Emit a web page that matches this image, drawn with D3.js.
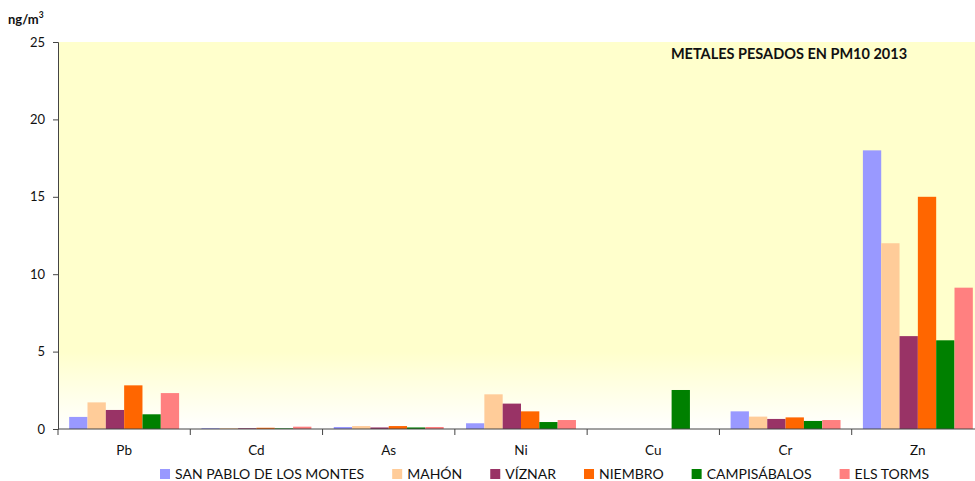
<!DOCTYPE html>
<html><head><meta charset="utf-8">
<script src="https://cdn.jsdelivr.net/npm/d3@7"></script>
<style>body{margin:0;background:#fff}svg{display:block;font-family:Lato,"Open Sans",sans-serif}</style>
</head><body><svg id="c" width="975" height="481"></svg>
<script>
const categories = ["Pb","Cd","As","Ni","Cu","Cr","Zn"];
const seriesNames = ["SAN PABLO DE LOS MONTES","MAHÓN","VÍZNAR","NIEMBRO","CAMPISÁBALOS","ELS TORMS"];
const colors = ["#9999FF","#FFCC99","#993366","#FF6600","#008000","#FF8080"];
const sanPablo     = [0.78, 0.05, 0.13, 0.37, 0,    1.14, 18.0];
const mahon        = [1.72, 0.05, 0.19, 2.24, 0,    0.80, 12.0];
const viznar       = [1.23, 0.05, 0.10, 1.64, 0,    0.65, 6.0];
const niembro      = [2.82, 0.08, 0.19, 1.14, 0,    0.75, 15.0];
const campisabalos = [0.95, 0.04, 0.10, 0.45, 2.52, 0.52, 5.73];
const elsTorms     = [2.32, 0.15, 0.13, 0.58, 0,    0.58, 9.13];
const seriesValues = [sanPablo, mahon, viznar, niembro, campisabalos, elsTorms];
const yTicks = [0,5,10,15,20,25];
const title = "METALES PESADOS EN PM10 2013";

const svg = d3.select("#c");
const L = 58, R = 984, T = 42, B = 429;
const x = d3.scaleBand().domain(categories).range([L, R]).paddingInner(0).paddingOuter(0);
const xs = d3.scaleBand().domain(d3.range(seriesNames.length)).range([0, x.bandwidth()]).paddingOuter(0.61).paddingInner(0);
const y = d3.scaleLinear().domain([0,25]).range([B, T]);

const defs = svg.append("defs");
const g = defs.append("linearGradient").attr("id","bg").attr("x1",0).attr("y1",0).attr("x2",0).attr("y2",1);
g.append("stop").attr("offset","0%").attr("stop-color","#FFFFCC");
g.append("stop").attr("offset","80%").attr("stop-color","#FFFFCC");
g.append("stop").attr("offset","100%").attr("stop-color","#FFFFFF");
svg.append("rect").attr("x",L).attr("y",T).attr("width",R-L).attr("height",B-T).attr("fill","url(#bg)");

svg.append("text").attr("x",789).attr("y",59).attr("text-anchor","middle")
  .attr("font-size",14.5).attr("font-weight","bold").attr("fill","#111").text(title);

// bars
seriesValues.forEach((vals, si) => {
  svg.append("g").selectAll("rect").data(vals).join("rect")
    .attr("x",(d,i)=>x(categories[i]) + xs(si))
    .attr("width", xs.bandwidth())
    .attr("y", d=>y(d))
    .attr("height", d=>B - y(d))
    .attr("fill", colors[si]);
});

// y axis
const ya = svg.append("g").attr("transform",`translate(${L},0)`)
  .call(d3.axisLeft(y).tickValues(yTicks).tickSize(5).tickPadding(8));
ya.select(".domain").attr("stroke","#444");
ya.selectAll(".tick line").attr("stroke","#444");
ya.selectAll("text").attr("font-size",13).attr("font-family","Lato, sans-serif").attr("fill","#111");

// x axis
const xa = svg.append("g").attr("transform",`translate(0,${B})`);
xa.append("line").attr("x1",L).attr("x2",R).attr("stroke","#444");
xa.selectAll("line.tk").data(categories.map(c=>x(c)).concat([R])).join("line").attr("class","tk")
  .attr("x1",d=>d).attr("x2",d=>d).attr("y1",0).attr("y2",6).attr("stroke","#444");
xa.selectAll("text").data(categories).join("text")
  .attr("x",d=>x(d)+x.bandwidth()/2).attr("y",26).attr("text-anchor","middle")
  .attr("font-size",13.5).attr("fill","#111").text(d=>d);

// unit label
const u = svg.append("text").attr("x",8).attr("y",24).attr("font-size",13).attr("font-weight","bold").attr("fill","#111");
u.append("tspan").text("ng/m");
u.append("tspan").attr("font-size",8.5).attr("dy",-6).text("3");

// legend
let lx = 160;
const ly = 474;
seriesNames.forEach((n, i) => {
  svg.append("rect").attr("x",lx).attr("y",ly-5).attr("width",10).attr("height",10).attr("fill",colors[i]);
  const t = svg.append("text").attr("x",lx+15).attr("y",ly+5).attr("font-size",14).attr("fill","#111").text(n);
  lx += 15 + t.node().getComputedTextLength() + 28;
});
</script></body></html>
